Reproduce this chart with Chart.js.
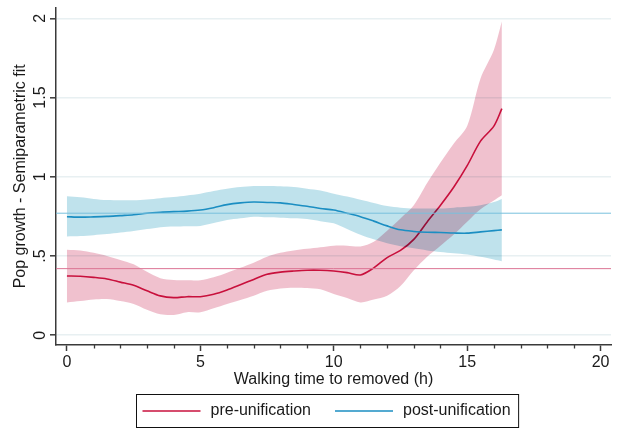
<!DOCTYPE html>
<html>
<head>
<meta charset="utf-8">
<script src="https://cdn.jsdelivr.net/npm/chart.js@4/dist/chart.umd.min.js"></script>
<style>
  html, body { margin: 0; padding: 0; background: #ffffff; }
  #wrap { width: 622px; height: 430px; position: relative; }
</style>
</head>
<body>
<div id="wrap"><canvas id="c" width="622" height="430"></canvas></div>
<script>
// ---- data ----
const walkTime = [0,0.5,1,1.5,2,2.5,3,3.5,4,4.5,5,5.5,6,6.5,7,7.5,8,8.5,9,9.5,10,10.5,11,11.5,12,12.5,13,13.5,14,14.5,15,15.5,16,16.3];

const preFit   = [0.374,0.372,0.365,0.355,0.335,0.315,0.280,0.248,0.237,0.243,0.243,0.258,0.285,0.318,0.352,0.385,0.398,0.405,0.410,0.410,0.405,0.395,0.380,0.425,0.490,0.535,0.605,0.715,0.820,0.935,1.070,1.225,1.320,1.430];
const preUpper = [0.540,0.535,0.520,0.500,0.475,0.447,0.400,0.360,0.349,0.347,0.347,0.365,0.394,0.425,0.457,0.495,0.520,0.535,0.545,0.555,0.565,0.565,0.560,0.590,0.660,0.737,0.820,0.960,1.090,1.210,1.320,1.620,1.800,1.980];
const preLower = [0.207,0.215,0.225,0.228,0.215,0.197,0.160,0.132,0.128,0.145,0.145,0.170,0.197,0.222,0.249,0.280,0.295,0.300,0.298,0.290,0.260,0.235,0.207,0.225,0.249,0.310,0.410,0.495,0.565,0.635,0.716,0.795,0.850,0.883];

const postFit   = [0.748,0.745,0.747,0.750,0.755,0.760,0.770,0.776,0.780,0.783,0.790,0.805,0.824,0.835,0.841,0.838,0.835,0.825,0.814,0.800,0.790,0.770,0.748,0.720,0.690,0.665,0.655,0.650,0.648,0.645,0.644,0.652,0.660,0.665];
const postUpper = [0.877,0.870,0.860,0.853,0.852,0.852,0.857,0.865,0.872,0.882,0.893,0.910,0.924,0.935,0.941,0.942,0.940,0.935,0.925,0.914,0.893,0.875,0.855,0.835,0.815,0.805,0.800,0.800,0.800,0.805,0.810,0.820,0.840,0.860];
const postLower = [0.623,0.626,0.631,0.638,0.648,0.658,0.670,0.682,0.686,0.688,0.690,0.708,0.727,0.738,0.748,0.745,0.742,0.738,0.733,0.720,0.706,0.670,0.634,0.605,0.580,0.561,0.548,0.535,0.525,0.517,0.509,0.495,0.478,0.467];

const preMean  = 0.42;
const postMean = 0.77;

const seriesLabels = ['pre-unification', 'post-unification'];
const xTickLabels = ['0', '5', '10', '15', '20'];
const yTickLabels = ['0', '.5', '1', '1.5', '2'];

const X_MIN = -0.41, X_MAX = 20.39;
const Y_MIN = -0.062, Y_MAX = 2.068;

// ---- styles ----
const FONT = '"Liberation Sans", Arial, Helvetica, sans-serif';
const FS = 16;
const RED = '#c8103c', BLUE = '#1b8ec2';
const RED_FILL = '#f0c1ce', BLUE_FILL = '#bfe2ec';
const RED_H = '#dc7494', BLUE_H = '#78c0dd';
const AXIS = '#3a3a3a', TEXT = '#1a1a1a';

const pts = (ys) => walkTime.map((x, i) => ({x, y: ys[i]}));
const hline = (v) => [{x: X_MIN, y: v}, {x: X_MAX, y: v}];

const base = {pointRadius: 0, pointHoverRadius: 0, tension: 0.3};

const datasets = [
  Object.assign({}, base, {label: 'preUpper', data: pts(preUpper), borderWidth: 0, borderColor: 'rgba(0,0,0,0)', fill: false, order: 10, _band: true}),
  Object.assign({}, base, {label: 'preLower', data: pts(preLower), borderWidth: 0, borderColor: 'rgba(0,0,0,0)', backgroundColor: RED_FILL, fill: '-1', order: 9, _band: true}),
  Object.assign({}, base, {label: seriesLabels[0], data: pts(preFit), borderWidth: 1.6, borderColor: RED, fill: false, order: 8}),
  Object.assign({}, base, {label: 'postUpper', data: pts(postUpper), borderWidth: 0, borderColor: 'rgba(0,0,0,0)', fill: false, order: 7, _band: true}),
  Object.assign({}, base, {label: 'postLower', data: pts(postLower), borderWidth: 0, borderColor: 'rgba(0,0,0,0)', backgroundColor: BLUE_FILL, fill: '-1', order: 6, _band: true}),
  Object.assign({}, base, {label: seriesLabels[1], data: pts(postFit), borderWidth: 1.6, borderColor: BLUE, fill: false, order: 5}),
  Object.assign({}, base, {label: 'preMean', data: hline(preMean), borderWidth: 1, borderColor: RED_H, fill: false, tension: 0, order: 4}),
  Object.assign({}, base, {label: 'postMean', data: hline(postMean), borderWidth: 1, borderColor: BLUE_H, fill: false, tension: 0, order: 3})
];

// white background + multiply blending for the bands
const blendPlugin = {
  id: 'blend',
  beforeDraw(chart) {
    const ctx = chart.ctx;
    ctx.save();
    ctx.fillStyle = '#ffffff';
    ctx.fillRect(0, 0, chart.width, chart.height);
    ctx.restore();
  },
  beforeDatasetsDraw(chart) {
    chart.ctx.save();
    chart.ctx.globalCompositeOperation = 'multiply';
  },
  beforeDatasetDraw(chart, args) {
    const ds = chart.data.datasets[args.index];
    chart.ctx.globalCompositeOperation = ds._band ? 'multiply' : 'source-over';
  },
  afterDatasetDraw(chart) {
    chart.ctx.globalCompositeOperation = 'multiply';
  },
  afterDatasetsDraw(chart) {
    chart.ctx.globalCompositeOperation = 'source-over';
    chart.ctx.restore();
  },
  afterDraw(chart) {
    // minor x ticks at each integer
    const ctx = chart.ctx;
    const xs = chart.scales.x;
    ctx.save();
    ctx.strokeStyle = AXIS;
    ctx.lineWidth = 1.3;
    for (let v = 0; v <= 20; v++) {
      if (v % 5 === 0) continue;
      const px = Math.round(xs.getPixelForValue(v)) + 0.5;
      ctx.beginPath();
      ctx.moveTo(px, xs.top);
      ctx.lineTo(px, xs.top + 3.5);
      ctx.stroke();
    }
    ctx.restore();
  }
};

// boxed legend under the axis title
const legendPlugin = {
  id: 'boxLegend',
  afterDraw(chart) {
    const ctx = chart.ctx;
    const items = [
      {label: chart.data.datasets[2].label, color: RED},
      {label: chart.data.datasets[5].label, color: BLUE}
    ];
    ctx.save();
    ctx.globalCompositeOperation = 'source-over';
    ctx.font = FS + 'px ' + FONT;
    const padL = 6, padR = 8, lineLen = 58, gap = 10, itemGap = 24;
    let total = padL + padR;
    items.forEach((it, i) => {
      it.w = ctx.measureText(it.label).width;
      total += lineLen + gap + it.w + (i ? itemGap : 0);
    });
    const cx = 327.5;
    const left = Math.round(cx - total / 2) + 0.5;
    const top = 394.5, h = 33;
    ctx.strokeStyle = '#111';
    ctx.lineWidth = 1;
    ctx.strokeRect(left, top, total, h);
    const cy = top + h / 2;
    let x = left + padL;
    items.forEach((it, i) => {
      if (i) x += itemGap;
      ctx.strokeStyle = it.color;
      ctx.lineWidth = 1.6;
      ctx.beginPath();
      ctx.moveTo(x, cy);
      ctx.lineTo(x + lineLen, cy);
      ctx.stroke();
      x += lineLen + gap;
      ctx.fillStyle = TEXT;
      ctx.textBaseline = 'middle';
      ctx.textAlign = 'left';
      ctx.fillText(it.label, x, cy);
      x += it.w;
    });
    ctx.restore();
  }
};

new Chart(document.getElementById('c'), {
  type: 'line',
  data: {datasets},
  plugins: [blendPlugin, legendPlugin],
  options: {
    responsive: false,
    animation: false,
    events: [],
    layout: {padding: {top: 3, right: 11, bottom: 41, left: 0}},
    plugins: {legend: {display: false}, tooltip: {enabled: false}},
    scales: {
      x: {
        type: 'linear',
        min: X_MIN, max: X_MAX,
        afterFit(s) { s.height = 44; },
        border: {color: AXIS, width: 1.5},
        grid: {
          drawOnChartArea: false,
          tickLength: 6,
          tickWidth: 1.5,
          tickColor: (c) => (c.tick && c.tick.value % 5 === 0) ? AXIS : 'rgba(0,0,0,0)'
        },
        ticks: {
          stepSize: 1,
          includeBounds: false,
          autoSkip: false,
          maxRotation: 0,
          padding: 2,
          color: TEXT,
          font: {size: FS, family: FONT},
          callback: (v) => {
            const s = String(v);
            return xTickLabels.includes(s) ? s : '';
          }
        },
        title: {
          display: true,
          text: 'Walking time to removed (h)',
          color: TEXT,
          font: {size: FS, family: FONT},
          padding: {top: 0, bottom: 0}
        }
      },
      y: {
        type: 'linear',
        min: Y_MIN, max: Y_MAX,
        afterFit(s) { s.width = 56; },
        border: {color: AXIS, width: 1.5},
        grid: {
          color: '#e8f0f2',
          lineWidth: 1.6,
          tickLength: 6,
          tickWidth: 1.5,
          tickColor: AXIS
        },
        ticks: {
          stepSize: 0.5,
          includeBounds: false,
          minRotation: 90,
          maxRotation: 90,
          crossAlign: 'center',
          padding: -2,
          color: TEXT,
          font: {size: FS, family: FONT},
          callback: (v) => yTickLabels[Math.round(v * 2)]
        },
        title: {
          display: true,
          text: 'Pop growth - Semiparametric fit',
          color: TEXT,
          font: {size: FS, family: FONT},
          padding: {top: 11, bottom: 0}
        }
      }
    }
  }
});
</script>
</body>
</html>
